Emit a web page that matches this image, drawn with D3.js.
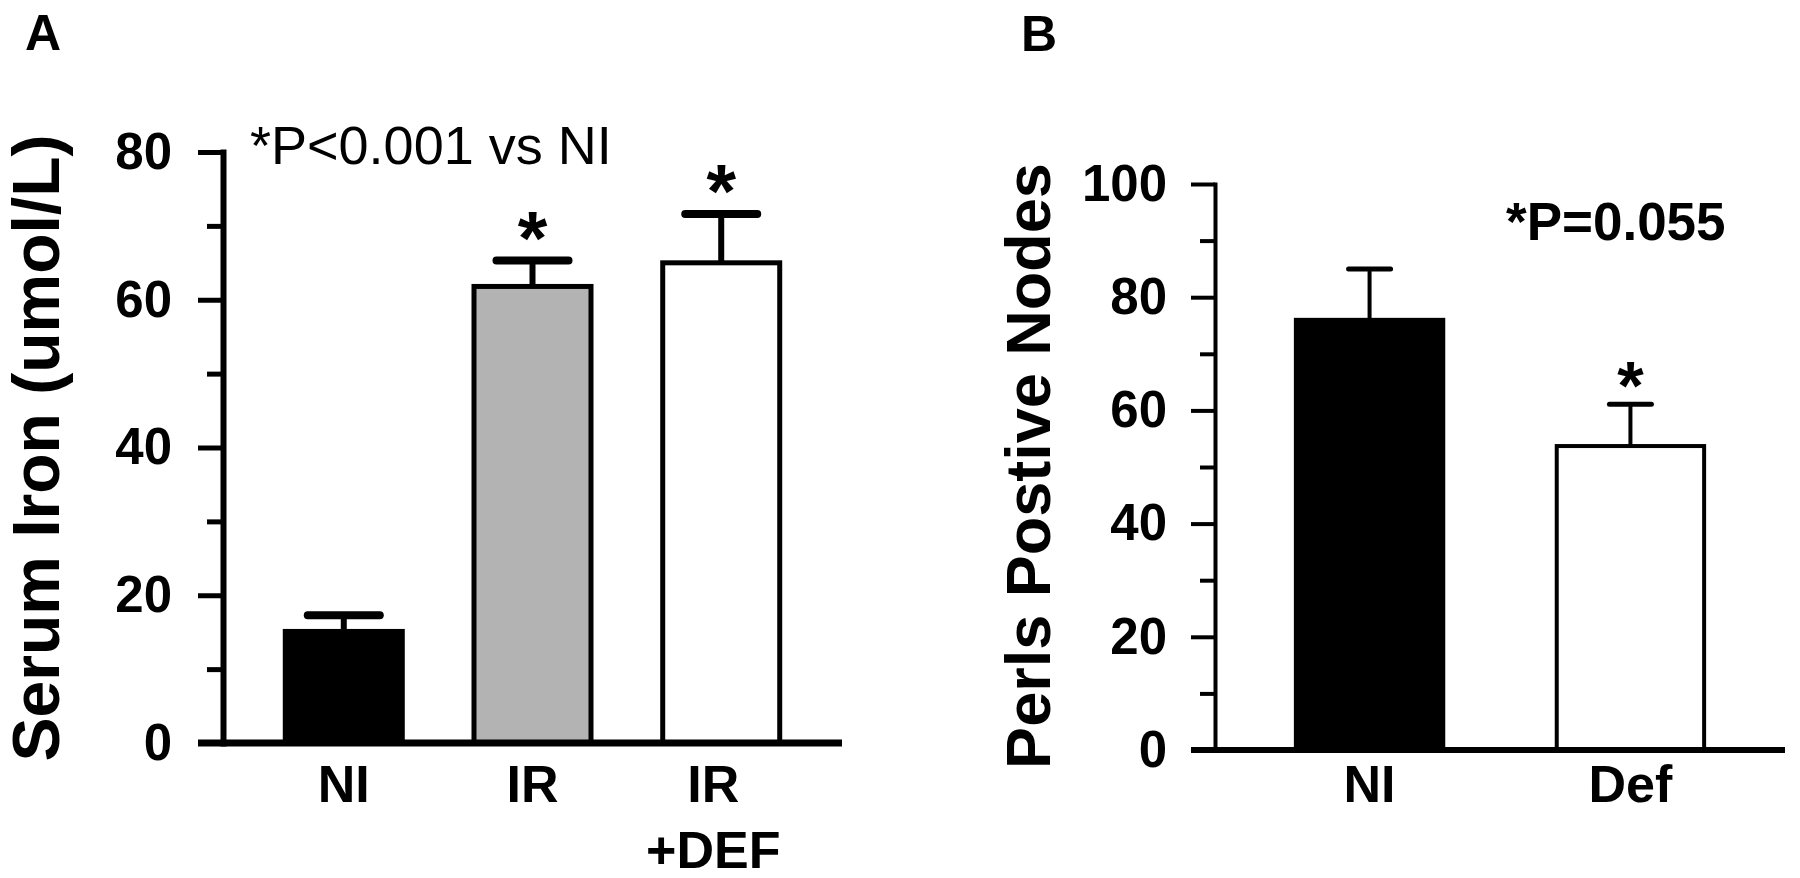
<!DOCTYPE html>
<html><head><meta charset="utf-8">
<script src="https://cdn.jsdelivr.net/npm/d3@7"></script>
<style>body{margin:0;background:#fff}svg{display:block}</style>
</head><body><svg id="c" width="1800" height="878"></svg>
<script>
// Panel A data
const catsA = ["NI", "IR", "IR+DEF"];
const labelLinesA = [["NI"], ["IR"], ["IR", "+DEF"]];
const meansA = [15.1, 61.8, 65.0];
const errA = [17.3, 65.3, 71.6];
const fillsA = ["#000000", "#b3b3b3", "#ffffff"];
const sigA = [false, true, true];
const ticksA = [0, 20, 40, 60, 80];
const minorA = [10, 30, 50, 70];

// Panel B data
const catsB = ["NI", "Def"];
const labelLinesB = [["NI"], ["Def"]];
const meansB = [76.0, 53.7];
const errB = [85.0, 61.1];
const fillsB = ["#000000", "#ffffff"];
const sigB = [false, true];
const ticksB = [0, 20, 40, 60, 80, 100];
const minorB = [10, 30, 50, 70, 90];

const FONT = "'Liberation Sans', Arial, Helvetica, sans-serif";
const svg = d3.select("#c");
svg.append("rect").attr("width", 1800).attr("height", 878).attr("fill", "#fff");

function panel(o) {
  const g = svg.append("g");
  const y = d3.scaleLinear().domain([0, o.ymax]).range([o.y0, o.yTop]);
  const x = d3.scaleBand().domain(o.cats).range([o.ax, o.xEnd])
    .paddingInner(o.pi).paddingOuter(o.po);

  // bars
  g.selectAll("rect.bar").data(o.cats).enter().append("rect")
    .attr("x", (d) => x(d)).attr("width", x.bandwidth())
    .attr("y", (d, i) => y(o.means[i])).attr("height", (d, i) => o.y0 - y(o.means[i]))
    .attr("fill", (d, i) => o.fills[i]).attr("stroke", "#000").attr("stroke-width", o.barSW);

  // error bars (upper only)
  g.selectAll("line.ev").data(o.cats).enter().append("line")
    .attr("x1", (d) => x(d) + x.bandwidth() / 2).attr("x2", (d) => x(d) + x.bandwidth() / 2)
    .attr("y1", (d, i) => y(o.means[i])).attr("y2", (d, i) => y(o.errs[i]))
    .attr("stroke", "#000").attr("stroke-width", o.errSW);
  g.selectAll("line.cap").data(o.cats).enter().append("line")
    .attr("x1", (d) => x(d) + x.bandwidth() / 2 - o.capW / 2)
    .attr("x2", (d) => x(d) + x.bandwidth() / 2 + o.capW / 2)
    .attr("y1", (d, i) => y(o.errs[i])).attr("y2", (d, i) => y(o.errs[i]))
    .attr("stroke", "#000").attr("stroke-width", o.capSW).attr("stroke-linecap", "round");

  // stars
  g.selectAll("text.star").data(o.cats.filter((d, i) => o.sig[i])).enter().append("text")
    .attr("x", (d) => x(d) + x.bandwidth() / 2)
    .attr("y", (d) => y(o.errs[o.cats.indexOf(d)]) + o.starDy)
    .attr("text-anchor", "middle").attr("font-family", FONT).attr("font-weight", "bold")
    .attr("font-size", o.starFS).text("*");

  // y axis major
  const ya = g.append("g").attr("transform", `translate(${o.ax},0)`)
    .call(d3.axisLeft(y).tickValues(o.ticks).tickSize(o.tickLen).tickSizeOuter(0).tickPadding(o.tickPad));
  ya.select(".domain").attr("stroke-width", o.axisSW).attr("stroke-linecap", "square");
  ya.selectAll(".tick line").attr("stroke-width", o.tickSW);
  ya.selectAll(".tick text").attr("font-family", FONT).attr("font-weight", "bold")
    .attr("font-size", o.tickFS).attr("fill", "#000");
  // y axis minor
  const ym = g.append("g").attr("transform", `translate(${o.ax},0)`)
    .call(d3.axisLeft(y).tickValues(o.minor).tickSize(o.minorLen).tickSizeOuter(0).tickFormat(""));
  ym.select(".domain").remove();
  ym.selectAll(".tick line").attr("stroke-width", o.tickSW);

  // x axis baseline
  g.append("line").attr("x1", o.ax - o.tickLen).attr("x2", o.xEnd)
    .attr("y1", o.y0).attr("y2", o.y0).attr("stroke", "#000").attr("stroke-width", o.xSW);

  // category labels
  o.cats.forEach((c, i) => {
    const t = g.append("text").attr("font-family", FONT).attr("font-weight", "bold")
      .attr("font-size", o.catFS).attr("text-anchor", "middle");
    const dx = o.lines[i].length > 1 ? o.multiDx : 0;
    o.lines[i].forEach((ln, k) => {
      t.append("tspan").attr("x", x(c) + x.bandwidth() / 2 + dx)
        .attr("y", o.catY + k * o.lineH).text(ln);
    });
  });

  // y title
  g.append("text").attr("transform", `translate(${o.titleX},${o.titleY}) rotate(-90)`)
    .attr("text-anchor", "middle").attr("font-family", FONT).attr("font-weight", "bold")
    .attr("font-size", o.titleFS).text(o.title);
}

panel({
  cats: catsA, lines: labelLinesA, means: meansA, errs: errA, fills: fillsA, sig: sigA,
  ticks: ticksA, minor: minorA, ymax: 80,
  ax: 223, y0: 743, yTop: 152, xEnd: 842, pi: 0.38, po: 0.33,
  barSW: 5, errSW: 6, capSW: 8, capW: 72, starFS: 76, starDy: 3,
  tickLen: 25, minorLen: 16, tickPad: 26, tickSW: 5, axisSW: 6, xSW: 7, tickFS: 51,
  catFS: 52, catY: 802, lineH: 66, multiDx: -8,
  title: "Serum Iron (umol/L)", titleX: 59, titleY: 448, titleFS: 66
});

panel({
  cats: catsB, lines: labelLinesB, means: meansB, errs: errB, fills: fillsB, sig: sigB,
  ticks: ticksB, minor: minorB, ymax: 100,
  ax: 1215, y0: 750, yTop: 184, xEnd: 1785, pi: 0.435, po: 0.31,
  barSW: 4, errSW: 4, capSW: 5, capW: 42, starFS: 68, starDy: 5,
  tickLen: 24, minorLen: 15, tickPad: 24, tickSW: 4, axisSW: 4, xSW: 6, tickFS: 51,
  catFS: 52, catY: 802, lineH: 66, multiDx: 0,
  title: "Perls Postive Nodes", titleX: 1050, titleY: 466, titleFS: 63
});

// panel letters & annotations
svg.append("text").attr("x", 25).attr("y", 50).attr("font-family", FONT).attr("font-weight", "bold")
  .attr("font-size", 50).text("A");
svg.append("text").attr("x", 1021).attr("y", 51).attr("font-family", FONT).attr("font-weight", "bold")
  .attr("font-size", 50).text("B");
svg.append("text").attr("x", 250).attr("y", 164).attr("font-family", FONT)
  .attr("font-size", 54).text("*P<0.001 vs NI");
svg.append("text").attr("x", 1506).attr("y", 240).attr("font-family", FONT).attr("font-weight", "bold")
  .attr("font-size", 53).text("*P=0.055");
</script></body></html>
